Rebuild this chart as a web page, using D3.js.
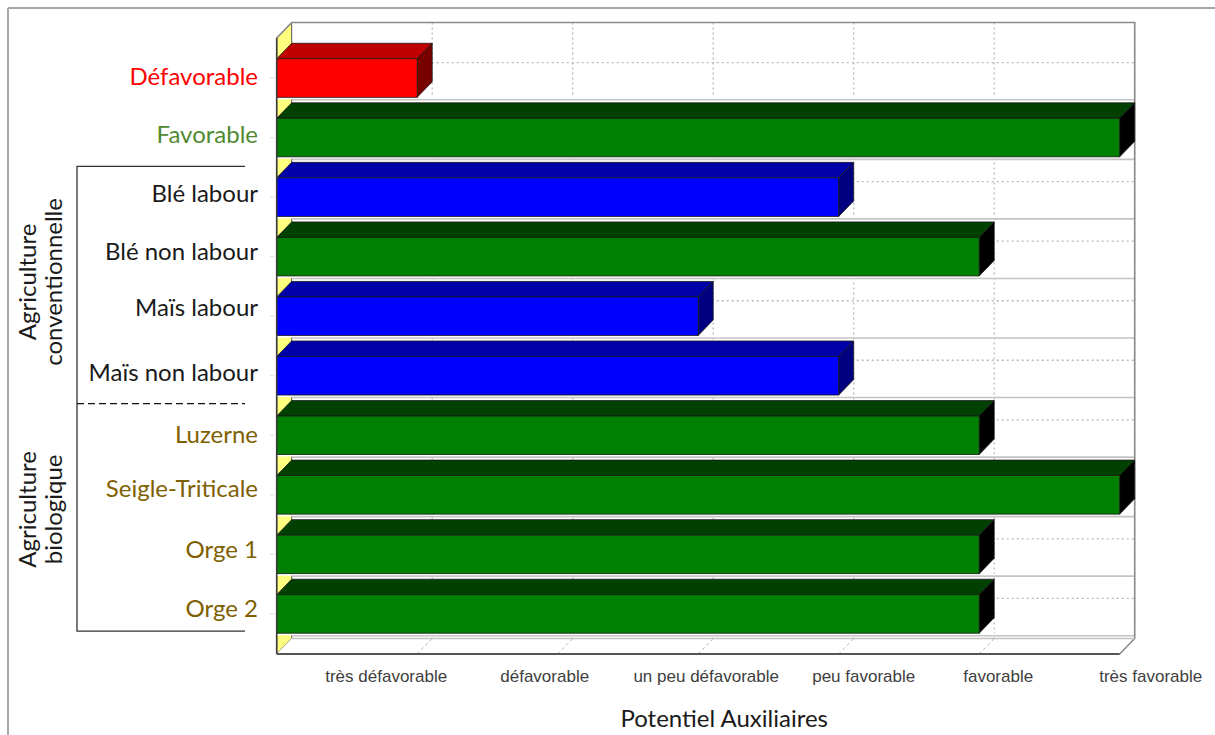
<!DOCTYPE html>
<html>
<head>
<meta charset="utf-8">
<script src="https://cdn.jsdelivr.net/npm/d3@7"></script>
<style>
  html, body { margin: 0; padding: 0; background: #ffffff; }
  svg { display: block; }
</style>
</head>
<body>
<svg id="chart" width="1215" height="735"></svg>
<script>
// ---------- data ----------
const categories = ["Défavorable", "Favorable", "Blé labour", "Blé non labour", "Maïs labour",
  "Maïs non labour", "Luzerne", "Seigle-Triticale", "Orge 1", "Orge 2"];
const values = [1, 6, 4, 5, 3, 4, 5, 6, 5, 5];
const barKind = ["bad", "good", "mid", "good", "mid", "mid", "good", "good", "good", "good"];
const labelGroup = ["refBad", "refGood", "conv", "conv", "conv", "conv", "bio", "bio", "bio", "bio"];
const tickValues = [1, 2, 3, 4, 5, 6];
const tickLabels = ["très défavorable", "défavorable", "un peu défavorable", "peu favorable", "favorable", "très favorable"];
const axisTitle = "Potentiel Auxiliaires";
const groups = [
  { lines: ["Agriculture", "conventionnelle"], from: "Blé labour", to: "Maïs non labour" },
  { lines: ["Agriculture", "biologique"], from: "Luzerne", to: "Orge 2" }
];

// ---------- styles / layout ----------
const faceColors = {
  bad:  { front: "#ff0000", top: "#c00000", side: "#7a0000" },
  good: { front: "#008000", top: "#004000", side: "#000000" },
  mid:  { front: "#0000ff", top: "#0000a8", side: "#000080" }
};
const labelColors = { refBad: "#ff0000", refGood: "#4f8a2f", conv: "#1a1a1a", bio: "#7f6000" };
const tickLabelNudge = [-31, -13, 8, 25, 19, 31];
const labelNudgeY = [-3, -4, -5, -6, -10, -4, -2, -7, -6, -6];
const DX = 15, DY = 15.5;
const catFont = "Lato, 'Open Sans', sans-serif";
const catSize = 24;

const svg = d3.select("#chart");

// outer frame (top & left)
svg.append("line").attr("x1", 8).attr("y1", 8).attr("x2", 1215).attr("y2", 8)
  .attr("stroke", "#aca7a7").attr("stroke-width", 2);
svg.append("line").attr("x1", 8).attr("y1", 8).attr("x2", 8).attr("y2", 735)
  .attr("stroke", "#aca7a7").attr("stroke-width", 2);

const x = d3.scaleLinear().domain([0, 6]).range([276.7, 1119.7]);
const y = d3.scaleBand().domain(categories).range([38, 654]).paddingInner(0.353).paddingOuter(0.349);
const x0 = x(0), x1 = x(6);
const yTop = y.range()[0], yBot = y.range()[1];

const g = svg.append("g");

// back wall
g.append("rect").attr("x", x0 + DX).attr("y", yTop - DY).attr("width", x1 - x0).attr("height", yBot - yTop)
  .attr("fill", "#ffffff");
// back wall gridlines (vertical, dotted)
tickValues.forEach(v => {
  g.append("line").attr("x1", x(v) + DX).attr("x2", x(v) + DX)
    .attr("y1", yTop - DY).attr("y2", yBot - DY)
    .attr("stroke", "#b8b8b8").attr("stroke-width", 1.3).attr("stroke-dasharray", "2,3");
});
// back wall gridlines (horizontal at category centers, dotted)
categories.forEach(c => {
  const yc = y(c) + y.bandwidth() / 2 - DY;
  g.append("line").attr("x1", x0 + DX).attr("x2", x1 + DX).attr("y1", yc).attr("y2", yc)
    .attr("stroke", "#b8b8b8").attr("stroke-width", 1.3).attr("stroke-dasharray", "2,3");
});

// left wall (yellow)
g.append("polygon")
  .attr("points", [[x0, yTop], [x0 + DX, yTop - DY], [x0 + DX, yBot - DY], [x0, yBot]].map(p => p.join(",")).join(" "))
  .attr("fill", "#ffff80").attr("stroke", "#555").attr("stroke-width", 1);

// floor
g.append("polygon")
  .attr("points", [[x0, yBot], [x0 + DX, yBot - DY], [x1 + DX, yBot - DY], [x1, yBot]].map(p => p.join(",")).join(" "))
  .attr("fill", "#ffffff").attr("stroke", "none");
tickValues.forEach(v => {
  g.append("line").attr("x1", x(v)).attr("y1", yBot).attr("x2", x(v) + DX).attr("y2", yBot - DY)
    .attr("stroke", "#b0b0b0").attr("stroke-width", 1).attr("stroke-dasharray", "3,3");
});

// category separator lines (light gray) below each bar
categories.forEach(c => {
  const yl = y(c) + y.bandwidth() + 2.5;
  g.append("line").attr("x1", x0).attr("x2", x1 + DX).attr("y1", yl - 1.5).attr("y2", yl - 1.5)
    .attr("stroke", "#ffffff").attr("stroke-width", 2);
  g.append("line").attr("x1", x0 + DX).attr("x2", x1 + DX).attr("y1", yl).attr("y2", yl)
    .attr("stroke", "#c4c4c4").attr("stroke-width", 1.6);
});

// walls outlines
g.append("polyline")
  .attr("points", [[x0, yTop], [x0 + DX, yTop - DY], [x1 + DX, yTop - DY], [x1 + DX, yBot - DY], [x1, yBot]].map(p => p.join(",")).join(" "))
  .attr("fill", "none").attr("stroke", "#8a8a8a").attr("stroke-width", 1.6);
g.append("line").attr("x1", x0 + DX).attr("x2", x1 + DX).attr("y1", yBot - DY).attr("y2", yBot - DY)
  .attr("stroke", "#c4c4c4").attr("stroke-width", 1.6);

// bars
categories.forEach((c, i) => {
  const col = faceColors[barKind[i]];
  const bt = y(c), bh = y.bandwidth(), xe = x(values[i]);
  const bg = g.append("g");
  bg.append("polygon")
    .attr("points", [[x0, bt], [x0 + DX, bt - DY], [xe + DX, bt - DY], [xe, bt]].map(p => p.join(",")).join(" "))
    .attr("fill", col.top).attr("stroke", "#1a1a1a").attr("stroke-width", 0.8).attr("stroke-linejoin", "round");
  bg.append("polygon")
    .attr("points", [[xe, bt], [xe + DX, bt - DY], [xe + DX, bt + bh - DY], [xe, bt + bh]].map(p => p.join(",")).join(" "))
    .attr("fill", col.side).attr("stroke", "#1a1a1a").attr("stroke-width", 0.8).attr("stroke-linejoin", "round");
  bg.append("rect").attr("x", x0).attr("y", bt).attr("width", xe - x0).attr("height", bh)
    .attr("fill", col.front).attr("stroke", "#1a1a1a").attr("stroke-width", 0.8);
});

// front axis lines
g.append("line").attr("x1", x0).attr("x2", x0).attr("y1", yTop).attr("y2", yBot)
  .attr("stroke", "#3a3a3a").attr("stroke-width", 1.6);
g.append("line").attr("x1", x0).attr("x2", x1).attr("y1", yBot).attr("y2", yBot)
  .attr("stroke", "#555").attr("stroke-width", 2);

// category ticks
categories.forEach(c => {
  const yc = y(c) + y.bandwidth() / 2;
  g.append("line").attr("x1", x0 - 6).attr("x2", x0 - 2).attr("y1", yc).attr("y2", yc)
    .attr("stroke", "#bbb").attr("stroke-width", 1).attr("stroke-dasharray", "1,1");
});

// category labels
categories.forEach((c, i) => {
  svg.append("text").attr("x", 258).attr("y", y(c) + y.bandwidth() / 2 + labelNudgeY[i])
    .attr("text-anchor", "end").attr("dominant-baseline", "central")
    .attr("font-family", catFont).attr("font-size", catSize)
    .attr("fill", labelColors[labelGroup[i]]).text(c);
});

// x tick labels
tickValues.forEach((v, i) => {
  svg.append("text").attr("x", x(v) + tickLabelNudge[i]).attr("y", 682)
    .attr("text-anchor", "middle").attr("font-family", "'Liberation Sans', Arial, sans-serif")
    .attr("font-size", 17).attr("fill", "#404040").text(tickLabels[i]);
});

// axis title
svg.append("text").attr("x", (x0 + x1) / 2 + 26).attr("y", 727).attr("text-anchor", "middle")
  .attr("font-family", catFont).attr("font-size", catSize).attr("fill", "#1a1a1a").text(axisTitle);

// group brackets & labels
const convTop = y("Blé labour") - (y.step() - y.bandwidth()) / 2 - 1;
const splitY = y("Luzerne") - (y.step() - y.bandwidth()) / 2 - 2;
const bioBot = y("Orge 2") + y.bandwidth() - 2;
const bx0 = 77, bx1 = 245;
svg.append("polyline")
  .attr("points", [[bx1, convTop], [bx0, convTop], [bx0, bioBot], [bx1, bioBot]].map(p => p.join(",")).join(" "))
  .attr("fill", "none").attr("stroke", "#333").attr("stroke-width", 1.3);
svg.append("line").attr("x1", bx0).attr("x2", bx1).attr("y1", splitY).attr("y2", splitY)
  .attr("stroke", "#111").attr("stroke-width", 1.3).attr("stroke-dasharray", "7,4");

const groupCenters = [(convTop + splitY) / 2 - 3, (splitY + bioBot) / 2 - 8];
groups.forEach((gr, k) => {
  const t = svg.append("text").attr("transform", `translate(0,${groupCenters[k]}) rotate(-90)`)
    .attr("text-anchor", "middle").attr("font-family", catFont).attr("font-size", catSize).attr("fill", "#1a1a1a");
  t.append("tspan").attr("x", 0).attr("y", 36).text(gr.lines[0]);
  t.append("tspan").attr("x", 0).attr("y", 62).text(gr.lines[1]);
});
</script>
</body>
</html>
